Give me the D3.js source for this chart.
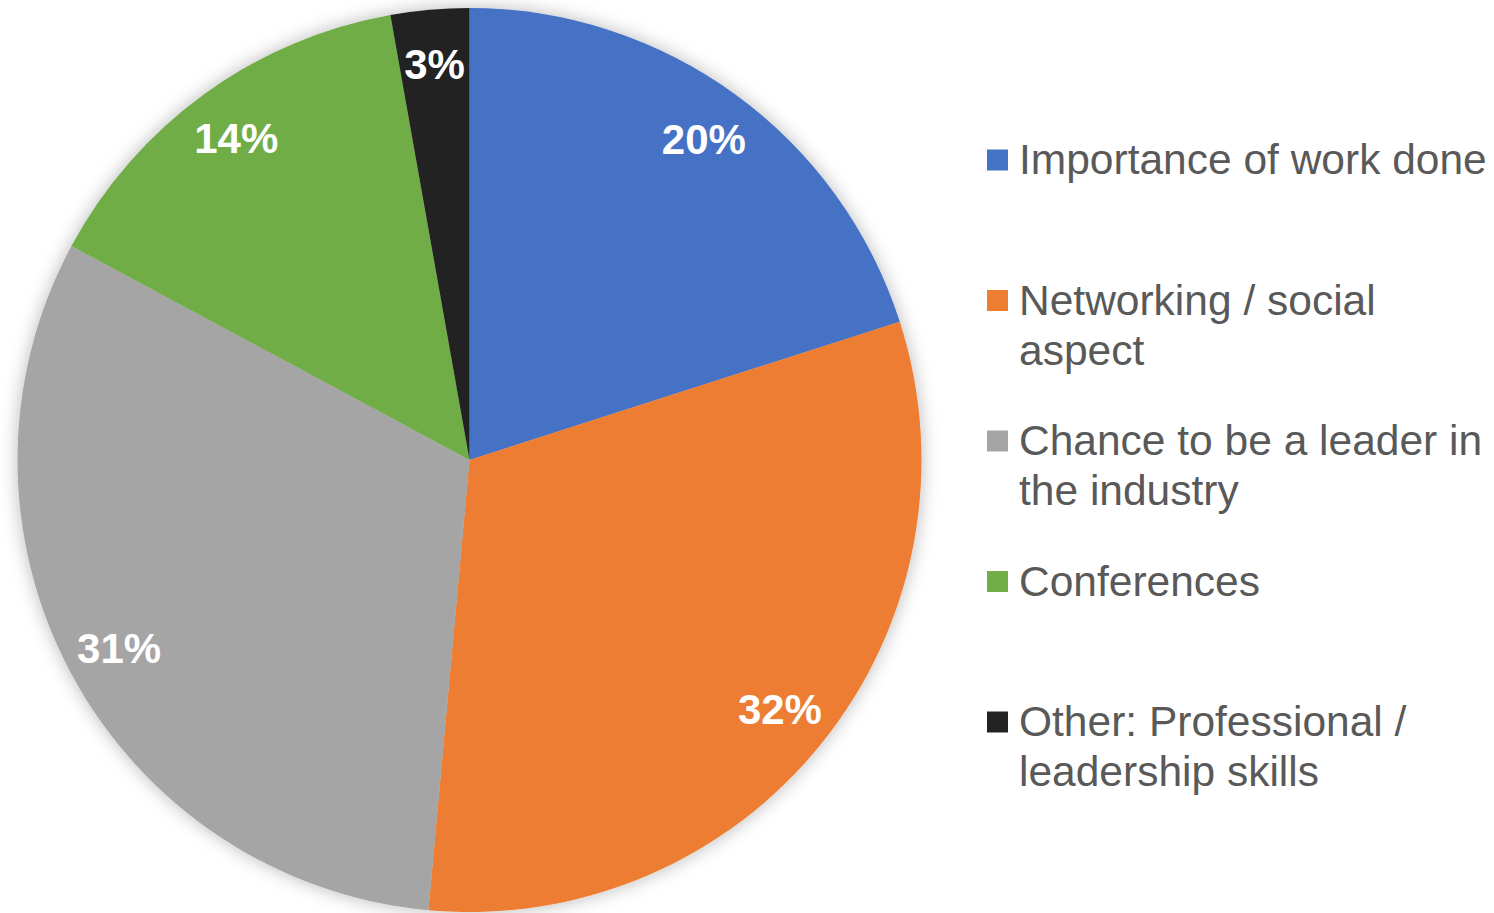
<!DOCTYPE html>
<html>
<head>
<meta charset="utf-8">
<script src="https://cdn.jsdelivr.net/npm/d3@7"></script>
<style>
  body { margin: 0; background: #fff; }
  svg { display: block; }
</style>
</head>
<body>
<div id="chart"></div>
<script>
// data
var categories = [
    "Importance of work done",
    "Networking / social aspect",
    "Chance to be a leader in the industry",
    "Conferences",
    "Other: Professional / leadership skills"
];
var shares = [20.05, 31.4, 31.4, 14.35, 2.8];
var pctLabels = ["20%", "32%", "31%", "14%", "3%"];
var colors = ["#4472C4", "#ED7D31", "#A5A5A5", "#70AD47", "#232323"];

var width = 1494,
    height = 913,
    cx = 469.5,
    cy = 460,
    radius = 452;

var svg = d3.select("#chart").append("svg")
    .attr("width", width)
    .attr("height", height);

var defs = svg.append("defs");
var shadow = defs.append("filter")
    .attr("id", "shadow")
    .attr("x", "-10%").attr("y", "-10%")
    .attr("width", "120%").attr("height", "120%");
shadow.append("feDropShadow")
    .attr("dx", 0)
    .attr("dy", 0)
    .attr("stdDeviation", 9)
    .attr("flood-color", "#000")
    .attr("flood-opacity", 0.28);

var color = d3.scaleOrdinal().domain(categories).range(colors);

var pie = d3.pie()
    .sort(null)
    .value(function(d, i) { return shares[i]; });

var arcs = pie(categories);

var arc = d3.arc().innerRadius(0).outerRadius(radius);
var labelArc = d3.arc().innerRadius(radius * 0.88).outerRadius(radius * 0.88);

var g = svg.append("g")
    .attr("transform", "translate(" + cx + "," + cy + ")");

g.append("g")
    .attr("filter", "url(#shadow)")
    .selectAll("path")
    .data(arcs)
    .enter().append("path")
    .attr("d", arc)
    .attr("fill", function(d) { return color(d.data); });

g.selectAll("text.pct")
    .data(arcs)
    .enter().append("text")
    .attr("class", "pct")
    .attr("transform", function(d) {
        return "translate(" + labelArc.centroid(d) + ")";
    })
    .attr("text-anchor", "middle")
    .attr("dy", "0.36em")
    .style("font-family", "'Liberation Sans', Arial, sans-serif")
    .style("font-size", "42px")
    .style("font-weight", "bold")
    .style("fill", "#fff")
    .text(function(d, i) { return pctLabels[i]; });

// legend
var ly = d3.scalePoint().domain(categories).range([160, 722]);

var legend = svg.append("g")
    .selectAll("g")
    .data(categories)
    .enter().append("g")
    .attr("transform", function(d) { return "translate(987," + ly(d) + ")"; });

legend.append("rect")
    .attr("x", 0)
    .attr("y", -10.5)
    .attr("width", 21)
    .attr("height", 21)
    .attr("fill", function(d) { return color(d); });

legend.append("text")
    .attr("x", 32)
    .attr("y", 14)
    .style("font-family", "'Liberation Sans', Arial, sans-serif")
    .style("font-size", "42.5px")
    .style("fill", "#595959")
    .each(function(d) {
        var text = d3.select(this),
            words = d.split(" "),
            line = [],
            tspan = text.append("tspan").attr("x", 32).attr("dy", 0);
        words.forEach(function(w) {
            line.push(w);
            tspan.text(line.join(" "));
            if (tspan.node().getComputedTextLength() > 478 && line.length > 1) {
                line.pop();
                tspan.text(line.join(" "));
                line = [w];
                tspan = text.append("tspan").attr("x", 32).attr("dy", 50).text(w);
            }
        });
    });
</script>
</body>
</html>
